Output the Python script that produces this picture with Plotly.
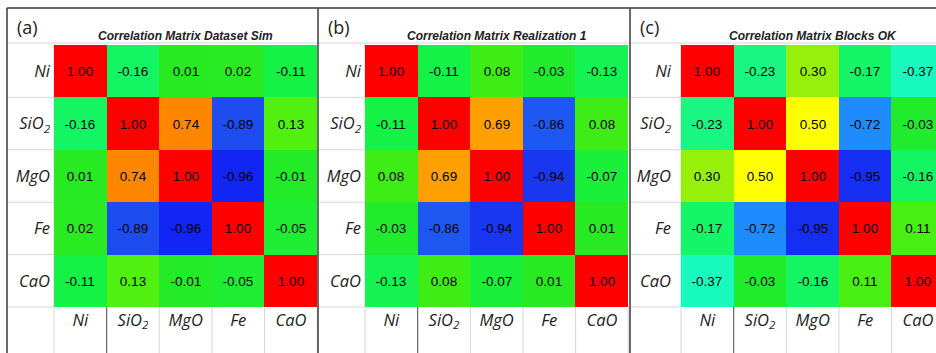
import plotly.graph_objects as go

W, H = 936, 353

variables = ["Ni", "SiO<sub>2</sub>", "MgO", "Fe", "CaO"]

corr_sim = [
    [1.00, -0.16, 0.01, 0.02, -0.11],
    [-0.16, 1.00, 0.74, -0.89, 0.13],
    [0.01, 0.74, 1.00, -0.96, -0.01],
    [0.02, -0.89, -0.96, 1.00, -0.05],
    [-0.11, 0.13, -0.01, -0.05, 1.00],
]
corr_real1 = [
    [1.00, -0.11, 0.08, -0.03, -0.13],
    [-0.11, 1.00, 0.69, -0.86, 0.08],
    [0.08, 0.69, 1.00, -0.94, -0.07],
    [-0.03, -0.86, -0.94, 1.00, 0.01],
    [-0.13, 0.08, -0.07, 0.01, 1.00],
]
corr_ok = [
    [1.00, -0.23, 0.30, -0.17, -0.37],
    [-0.23, 1.00, 0.50, -0.72, -0.03],
    [0.30, 0.50, 1.00, -0.95, -0.16],
    [-0.17, -0.72, -0.95, 1.00, 0.11],
    [-0.37, -0.03, -0.16, 0.11, 1.00],
]
titles = ["Correlation Matrix Dataset Sim", "Correlation Matrix Realization 1", "Correlation Matrix Blocks OK"]
letters = ["(a)", "(b)", "(c)"]
matrices = [corr_sim, corr_real1, corr_ok]

colorscale = [
    [0.00, "rgb(0,0,255)"],
    [0.03, "rgb(25,55,238)"],
    [0.06, "rgb(30,80,240)"],
    [0.14, "rgb(30,140,255)"],
    [0.315, "rgb(25,250,190)"],
    [0.385, "rgb(25,246,130)"],
    [0.42, "rgb(20,245,100)"],
    [0.445, "rgb(20,242,70)"],
    [0.50, "rgb(36,234,36)"],
    [0.54, "rgb(62,236,22)"],
    [0.565, "rgb(80,240,16)"],
    [0.65, "rgb(150,240,10)"],
    [0.75, "rgb(255,255,0)"],
    [0.845, "rgb(255,160,0)"],
    [0.87, "rgb(255,135,0)"],
    [1.00, "rgb(255,0,0)"],
]

def px(x):
    return x / W

def py(y):
    return 1 - y / H

panel_left = [7, 318, 630]
heat_left = [54, 365, 681]
cell_w = 52.65
heat_top, heat_bot = 45, 307
standoff = [3, 3, 9]
label_font = dict(family="Open Sans", size=16.5, color="#222", style="italic")

fig = go.Figure()
for i, z in enumerate(matrices):
    ax = "" if i == 0 else str(i + 1)
    fig.add_trace(go.Heatmap(
        z=z, x=variables, y=variables,
        xaxis="x" + ax, yaxis="y" + ax,
        colorscale=colorscale, zmin=-1, zmax=1, showscale=False,
        texttemplate="%{z:.2f}",
        textfont=dict(family="Arial, Liberation Sans", size=13.5, color="black"),
        hoverinfo="skip",
    ))
    right = heat_left[i] + 5 * cell_w
    x0d, x1d = px(heat_left[i]), min(1.0, px(right))
    xr_hi = 4.5 - max(0, right - W) / cell_w
    fig.layout["xaxis" + ax] = dict(
        domain=[x0d, x1d], range=[-0.5, xr_hi], anchor="y" + ax,
        showgrid=False, zeroline=False, showline=False, ticks="",
        tickfont=label_font, ticklabelstandoff=1, fixedrange=True,
    )
    fig.layout["yaxis" + ax] = dict(
        domain=[py(heat_bot), py(heat_top)], autorange="reversed", anchor="x" + ax,
        showgrid=False, zeroline=False, showline=False, ticks="",
        tickfont=label_font, ticklabelstandoff=standoff[i], fixedrange=True,
    )

shapes = []
def line(x0, y0, x1, y1, color, width, layer="below"):
    shapes.append(dict(type="line", xref="paper", yref="paper",
                       x0=px(x0), y0=py(y0), x1=px(x1), y1=py(y1),
                       line=dict(color=color, width=width), layer=layer))

light = "#d6d6d6"
for i in range(3):
    pl = panel_left[i]
    pr = panel_left[i + 1] if i < 2 else W
    hl = heat_left[i]
    line(pl, 43, pr, 43, light, 1)
    for k in range(1, 6):
        yy = heat_top + k * (heat_bot - heat_top) / 5
        line(pl, yy, hl, yy, light, 1)
    line(hl, 43, hl, H, light, 1)
    for k in range(1, 6):
        xx = hl + k * cell_w
        if xx < W:
            col = "#666" if k == 1 else light
            line(xx, heat_bot, xx, H, col, 1 if k != 1 else 1.2)

line(7, 8, W, 8, "#3a3a3a", 1.5, "above")
for xb in panel_left:
    line(xb, 8, xb, H, "#3a3a3a", 1.5, "above")

annotations = []
for i in range(3):
    annotations.append(dict(
        text=letters[i], xref="paper", yref="paper",
        x=px(panel_left[i] + 8), y=py(27), xanchor="left", yanchor="middle",
        showarrow=False, font=dict(family="Open Sans", size=18, color="#222"),
    ))
    cx = heat_left[i] + 2.5 * cell_w
    annotations.append(dict(
        text="<b><i>" + titles[i] + "</i></b>", xref="paper", yref="paper",
        x=px(cx), y=py(36), xanchor="center", yanchor="middle",
        showarrow=False, font=dict(family="Arial, Liberation Sans", size=12, color="#222"),
    ))

fig.update_layout(
    width=W, height=H, margin=dict(l=0, r=0, t=0, b=0),
    paper_bgcolor="white", plot_bgcolor="white",
    shapes=shapes, annotations=annotations, showlegend=False,
)
fig.write_html("out.html", config={"displayModeBar": False},
               post_script="document.body.style.margin='0';document.body.style.overflow='hidden';")
